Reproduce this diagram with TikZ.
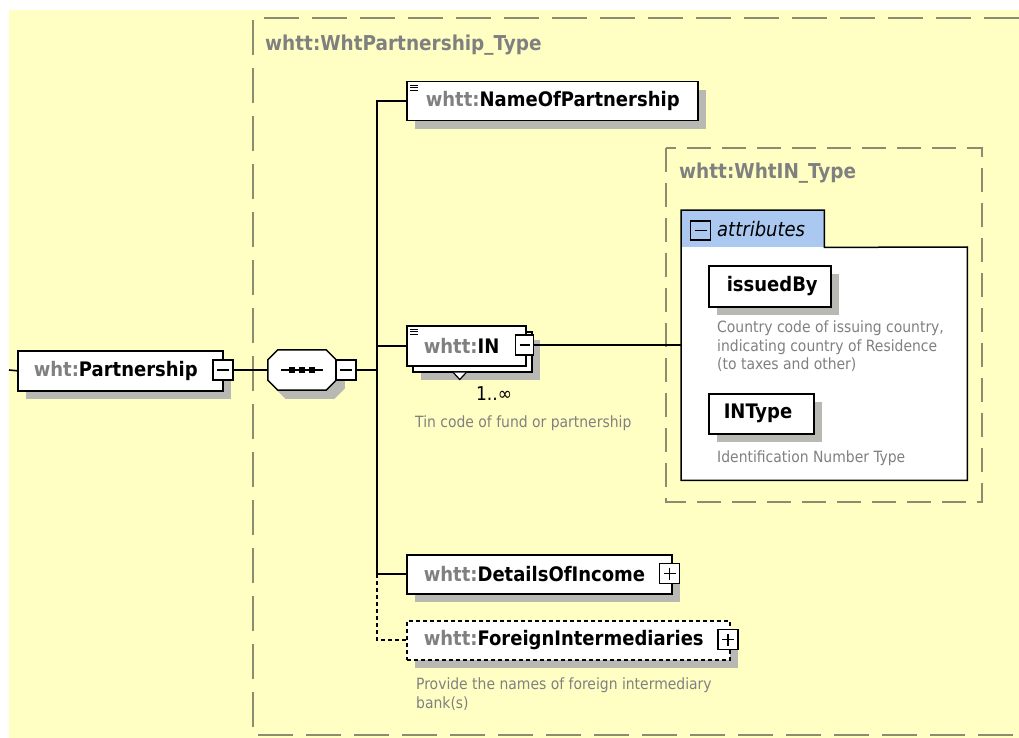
\documentclass[tikz,border=0pt]{standalone}
\usepackage{fontspec}
\IfFontExistsTF{DejaVu Sans Condensed}{\setmainfont{DejaVu Sans Condensed}}{\setmainfont{DejaVu Sans}[FakeStretch=0.88]}
\usetikzlibrary{shadows,calc}
\definecolor{bg}{RGB}{255,255,196}
\definecolor{framec}{RGB}{140,140,112}
\definecolor{shadowc}{RGB}{185,185,180}
\definecolor{pgray}{RGB}{128,128,128}
\definecolor{tabblue}{RGB}{170,200,240}
\newcommand{\pfx}[1]{\textcolor{pgray}{#1}}
\begin{document}
\begin{tikzpicture}[x=1pt,y=-1pt,
  conn/.style={line width=1.6pt, draw=black},
  shd/.style={general shadow={fill=shadowc, shadow xshift=8pt, shadow yshift=-8pt}},
  elem/.style={draw=black, line width=1.5pt, fill=white, inner xsep=#1, inner ysep=0pt,
    minimum height=39pt, anchor=north west, font=\fontsize{20}{23}\selectfont\bfseries},
  sq/.style={draw=black, line width=1.2pt, fill=white, minimum width=20pt, minimum height=20pt, inner sep=0pt},
  minus/.style={sq, path picture={\draw[line width=1.3pt] ([xshift=4pt]path picture bounding box.west) -- ([xshift=-4pt]path picture bounding box.east);}},
  plus/.style={sq, path picture={\draw[line width=1.3pt] ([xshift=4pt]path picture bounding box.west) -- ([xshift=-4pt]path picture bounding box.east);
      \draw[line width=1.3pt] ([yshift=-4pt]path picture bounding box.north) -- ([yshift=4pt]path picture bounding box.south);}},
  desc/.style={text=pgray, font=\fontsize{15.5}{18.5}\selectfont, inner sep=0pt, align=left},
  ttl/.style={text=pgray, font=\fontsize{20.5}{23}\selectfont\bfseries, inner sep=0pt, anchor=west},
  frm/.style={draw=framec, line width=1.8pt, dash pattern=on 35pt off 13pt},
  frmi/.style={draw=framec, line width=1.8pt, dash pattern=on 24pt off 11pt}
]
\useasboundingbox (0,0) rectangle (1019,738);
\fill[bg] (9,10) rectangle (1019,738);

% outer type frame
\draw[frm] (1019,18) -- (253,18) -- (253,735) -- (1019,735);
\node[ttl] (t1) at (265,45) {whtt:WhtPartnership\_Type};

% inner type frame
\draw[frmi] (666,148) rectangle (982,502);
\node[ttl] (t2) at (679,173) {whtt:WhtIN\_Type};

% Partnership
\coordinate (lstart) at (9,370);
\node[elem=16pt, minimum width=205pt, minimum height=40pt, shd] (part) at (17,350) {\makebox[173pt][l]{\pfx{wht:}Partnership}};
\node[minus] (pm) at (223,370) {};

% sequence compositor
\node[minimum width=68pt, minimum height=40pt, inner sep=0pt] (seq) at (302,370) {};
\foreach \ox/\oy/\fc/\dc in {8/8/shadowc/shadowc, 0/0/white/black}
  \filldraw[fill=\fc, draw=\dc, line width=1.5pt]
    ($(seq.north west)+(10+\ox,\oy)$) -- ($(seq.north east)+(-10+\ox,\oy)$) -- ($(seq.north east)+(\ox,10+\oy)$)
    -- ($(seq.south east)+(\ox,-10+\oy)$) -- ($(seq.south east)+(-10+\ox,\oy)$) -- ($(seq.south west)+(10+\ox,\oy)$)
    -- ($(seq.south west)+(\ox,-10+\oy)$) -- ($(seq.north west)+(\ox,10+\oy)$) -- cycle;
\draw[line width=1.4pt] ($(seq.center)+(-21,0)$) -- ($(seq.center)+(21,0)$);
\foreach \dx in {-10,0,10} \fill ($(seq.center)+(\dx-2.8,-2.8)$) rectangle ($(seq.center)+(\dx+2.8,2.8)$);
\node[minus] (sm) at (346,370) {};

\coordinate (tx) at (377,0);

% NameOfPartnership
\node[elem=19pt, minimum width=291pt, shd] (nop) at (406,81) {\makebox[253pt][l]{\pfx{whtt:}NameOfPartnership}};
\foreach \dy in {4,6.5,9} \draw[line width=0.9pt] ($(nop.north west)+(4,\dy)$) -- ++(8,0);

% IN (repeated)
\node[elem=17pt, minimum width=119pt, minimum height=40pt, shd] (inb) at (412,331) {};
\filldraw[fill=white, draw=black, line width=1.2pt] ($(inb.south)+(-19,0)$) -- ($(inb.south)+(-12.5,7)$) -- ($(inb.south)+(-6,0)$);
\node[elem=17pt, minimum width=119pt, minimum height=40pt] (in) at (406,325) {\makebox[85pt][l]{\pfx{whtt:}IN}};
\foreach \dy in {4,6.5,9} \draw[line width=0.9pt] ($(in.north west)+(4,\dy)$) -- ++(8,0);
\node[minus, minimum width=18pt] (inm) at (524.5,345) {};
\node[font=\fontsize{19}{22}\selectfont, inner sep=0pt] (mult) at (494,394) {1..∞};
\node[desc, anchor=west] (d1) at (415,423) {Tin code of fund or partnership};

% DetailsOfIncome
\node[elem=17pt, minimum width=265pt, shd] (doi) at (406,554) {\makebox[231pt][l]{\pfx{whtt:}DetailsOfIncome}};
\node[plus] (doip) at (669.5,573.5) {};

% ForeignIntermediaries
\node[elem=17pt, minimum width=323pt, shd, dash pattern=on 4pt off 3pt] (fi) at (406,620) {\makebox[289pt][l]{\pfx{whtt:}ForeignIntermediaries}};
\node[plus] (fip) at (728,639.5) {};
\node[desc, anchor=north west] (d2) at (416,678) {Provide the names of foreign intermediary\\bank(s)};

% connectors
\draw[conn] (lstart) -- (part.west);
\draw[conn] (pm.east) -- (seq.west);
\draw[conn] (sm.east) -- (sm.east -| tx);
\draw[conn] (nop.west) -- (nop.west -| tx) -- (doi.west -| tx) -- (doi.west);
\draw[conn] (in.west -| tx) -- (in.west);
\draw[conn, dash pattern=on 4pt off 3pt] (doi.west -| tx) -- (fi.west -| tx) -- (fi.west);

% attributes
\node[fill=white, minimum width=286pt, minimum height=233pt, anchor=north west, inner sep=0pt] (ab) at (681,247) {};
\node[fill=tabblue, minimum width=143pt, minimum height=37pt, anchor=north west, inner sep=0pt] (tab) at (681,210) {};
\draw[line width=1.5pt] (tab.north west) -- (tab.north east) -- (tab.south east) -- (ab.north east) -- (ab.south east) -- (ab.south west) -- cycle;
\node[minus, fill=tabblue, minimum height=19pt] (tm) at (700.5,230.5) {};
\node[anchor=west, inner sep=0pt, font=\fontsize{20}{23}\selectfont\itshape] (tl) at (717,229) {attributes};
\draw[conn] (inm.east) -- (inm.east -| ab.west);

\node[elem=18pt, minimum width=122pt, minimum height=41pt, shd] (ib) at (708,265) {\makebox[86pt][l]{issuedBy}};
\node[desc, anchor=north west] (d3) at (717,321) {Country code of issuing country,\\indicating country of Residence\\(to taxes and other)};
\node[elem=15pt, minimum width=105pt, minimum height=40pt, shd] (it) at (708,393) {\makebox[75pt][l]{INType}};
\node[desc, anchor=west] (d4) at (717,458) {Identification Number Type};
\end{tikzpicture}
\end{document}
